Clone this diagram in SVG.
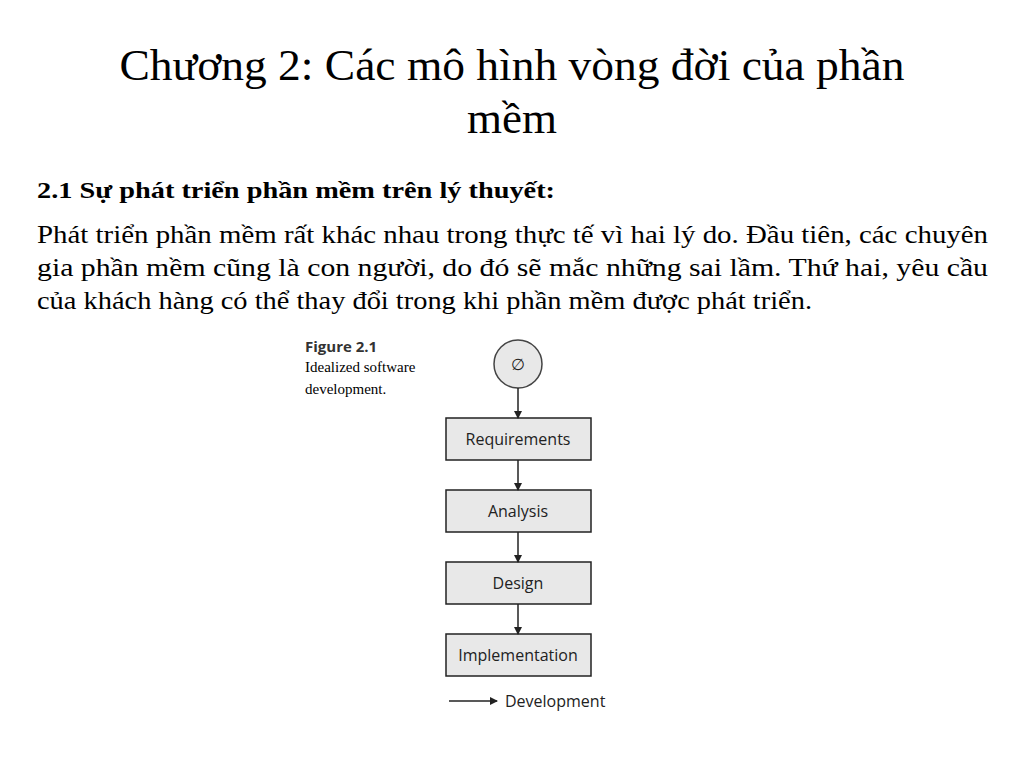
<svg xmlns="http://www.w3.org/2000/svg" width="1024" height="768" viewBox="0 0 1024 768">
<style>
.t{font-family:"Liberation Serif",serif;fill:#000}
.b{font-family:"Liberation Serif",serif;font-size:25px;fill:#000}
.box{fill:#e8e8e8;stroke:#222;stroke-width:1.5}
.lbl{font-family:"Open Sans","Liberation Sans",sans-serif;font-size:16px;fill:#222;text-anchor:middle}
.c{stroke:#222;stroke-width:1.5;fill:none;marker-end:url(#a)}
</style>
<defs><marker id="a" markerWidth="8" markerHeight="8" refX="7" refY="4" orient="auto" markerUnits="userSpaceOnUse"><path d="M0,0 L8,4 L0,8 Z" fill="#222"/></marker></defs>
<rect width="1024" height="768" fill="#fff"/>
<text class="t" font-size="45" text-anchor="middle" x="512" y="80" textLength="785" lengthAdjust="spacingAndGlyphs">Chương 2: Các mô hình vòng đời của phần</text>
<text class="t" font-size="45" text-anchor="middle" x="512" y="133">mềm</text>
<text class="t" font-size="24" font-weight="bold" x="37" y="198" textLength="518" lengthAdjust="spacingAndGlyphs">2.1 Sự phát triển phần mềm trên lý thuyết:</text>
<text class="b" x="37" y="243" textLength="951" lengthAdjust="spacingAndGlyphs">Phát triển phần mềm rất khác nhau trong thực tế vì hai lý do. Đầu tiên, các chuyên</text>
<text class="b" x="37" y="276" textLength="951" lengthAdjust="spacingAndGlyphs">gia phần mềm cũng là con người, do đó sẽ mắc những sai lầm. Thứ hai, yêu cầu</text>
<text class="b" x="37" y="309" textLength="775" lengthAdjust="spacingAndGlyphs">của khách hàng có thể thay đổi trong khi phần mềm được phát triển.</text>
<g id="caption">
<text font-family="Open Sans,Liberation Sans,sans-serif" font-size="15" font-weight="bold" fill="#333" x="305" y="352">Figure 2.1</text>
<text class="t" font-size="15" fill="#333" x="305" y="372">Idealized software</text>
<text class="t" font-size="15" fill="#333" x="305" y="394">development.</text>
</g>
<g id="start"><circle cx="518" cy="364" r="24" fill="#e8e8e8" stroke="#444" stroke-width="1.5"/><text class="lbl" x="518" y="370">∅</text></g>
<g id="requirements"><rect class="box" x="446" y="418" width="145" height="42"/><text class="lbl" x="518" y="445">Requirements</text></g>
<g id="analysis"><rect class="box" x="446" y="490" width="145" height="42"/><text class="lbl" x="518" y="517">Analysis</text></g>
<g id="design"><rect class="box" x="446" y="562" width="145" height="42"/><text class="lbl" x="518" y="589">Design</text></g>
<g id="implementation"><rect class="box" x="446" y="634" width="145" height="42"/><text class="lbl" x="518" y="661">Implementation</text></g>
<g id="connectors">
<line class="c" x1="518" y1="388" x2="518" y2="418"/>
<line class="c" x1="518" y1="460" x2="518" y2="490"/>
<line class="c" x1="518" y1="532" x2="518" y2="562"/>
<line class="c" x1="518" y1="604" x2="518" y2="634"/>
</g>
<g id="legend"><line class="c" x1="449" y1="701" x2="497" y2="701"/><text class="lbl" style="text-anchor:start" x="505" y="707">Development</text></g>
</svg>
